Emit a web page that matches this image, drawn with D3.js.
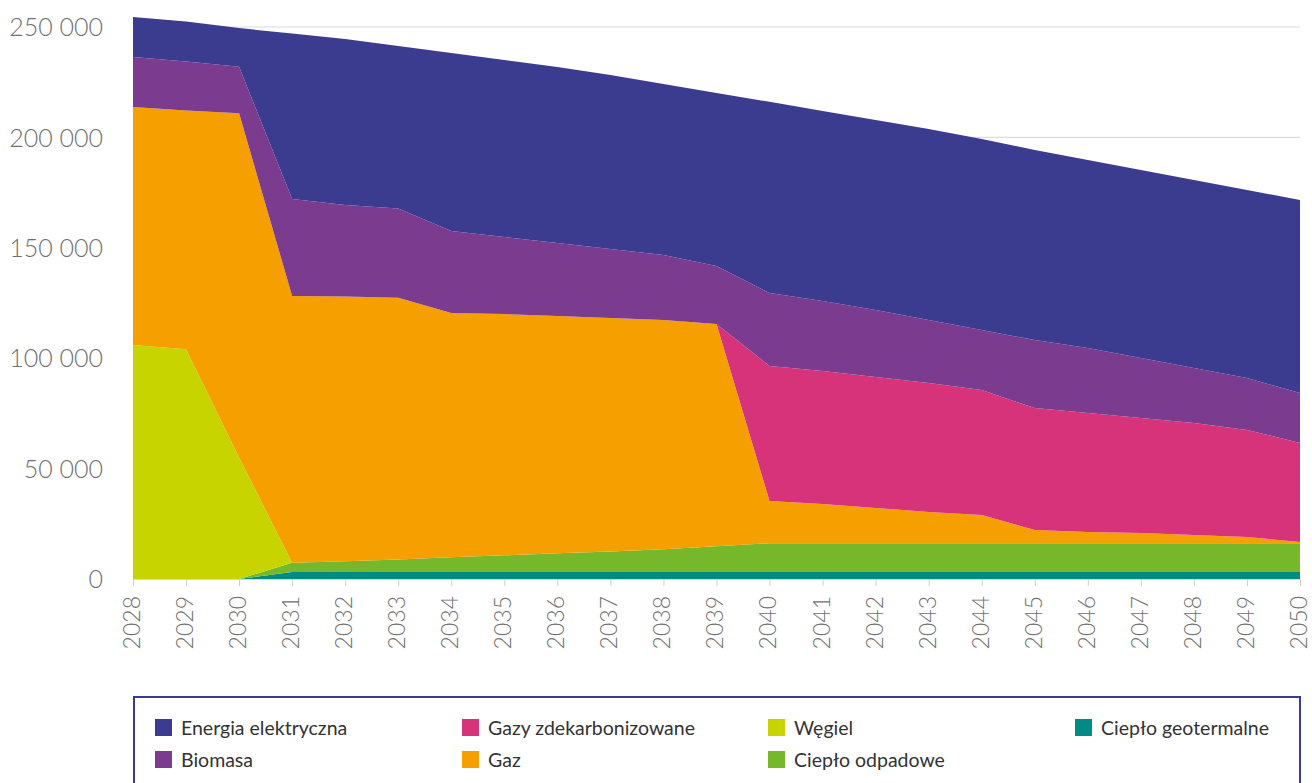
<!DOCTYPE html>
<html><head><meta charset="utf-8">
<script src="https://cdn.jsdelivr.net/npm/d3@7"></script>
<style>body{margin:0;background:#fff}svg{display:block}</style>
</head><body>
<svg id="c" width="1312" height="783"></svg>
<script>
const years = d3.range(2028, 2051);
const seriesNames = ["Ciepło geotermalne","Ciepło odpadowe","Węgiel","Gaz","Gazy zdekarbonizowane","Biomasa","Energia elektryczna"];
const geo     = [0,0,0,3200,3200,3200,3200,3200,3200,3200,3200,3200,3200,3200,3200,3200,3200,3200,3200,3200,3200,3200,3200];
const waste   = [0,0,0,4200,4800,5600,6600,7500,8500,9300,10300,11600,13000,13000,13000,13000,13000,13000,13000,13000,13000,13000,13000];
const coal    = [106000,104000,55000,0,0,0,0,0,0,0,0,0,0,0,0,0,0,0,0,0,0,0,0];
const gas     = [107800,108200,155900,120800,119900,118600,110700,109300,107400,105700,103800,100700,19100,17800,16000,14200,12800,6000,5100,4600,3700,2800,600];
const decarb  = [0,0,0,0,0,0,0,0,0,0,0,0,61200,60200,59300,58400,56600,55200,53900,52100,50800,48500,44800];
const biomass = [22600,22200,21100,43900,41500,40400,37100,34900,33100,31300,29400,26300,33000,31700,30300,28500,27200,30800,29400,27200,24900,23500,22600];
const elec    = [18100,18100,17500,74900,75200,73600,80600,80200,79700,78800,77500,78300,86600,86100,86100,86500,86500,86100,85200,85100,85100,85200,87400];
const yTicks = [0,50000,100000,150000,200000,250000];
const colors = ["#008c82","#76b82a","#c8d400","#f5a000","#d6337a","#7b3b8f","#3b3b8f"];
const legendOrder = ["Energia elektryczna","Gazy zdekarbonizowane","Węgiel","Ciepło geotermalne","Biomasa","Gaz","Ciepło odpadowe"];

const valuesByName = {"Ciepło geotermalne":geo,"Ciepło odpadowe":waste,"Węgiel":coal,"Gaz":gas,"Gazy zdekarbonizowane":decarb,"Biomasa":biomass,"Energia elektryczna":elec};
const table = years.map((yr,i)=>{const o={year:yr}; seriesNames.forEach(n=>o[n]=valuesByName[n][i]); return o;});
const color = d3.scaleOrdinal(seriesNames, colors);

const svg = d3.select("#c");
const font = "Lato, 'Open Sans', sans-serif";
const x = d3.scaleLinear().domain([2028,2050]).range([133,1300]);
const y = d3.scaleLinear().domain([0,250000]).range([579,27]);

// gridlines
svg.append("g").selectAll("line").data(yTicks.filter(d=>d>0)).join("line")
  .attr("x1",133).attr("x2",1300).attr("y1",d=>y(d)).attr("y2",d=>y(d))
  .attr("stroke","#dcdcdc").attr("stroke-width",1.2);

const stacked = d3.stack().keys(seriesNames)(table);
const area = d3.area().x(d=>x(d.data.year)).y0(d=>y(d[0])).y1(d=>y(d[1]));
svg.append("g").selectAll("path").data(stacked).join("path")
  .attr("d",area).attr("fill",d=>color(d.key));

// x axis
const xAxis = d3.axisBottom(x).tickValues(years).tickSize(7).tickFormat(d3.format("d"));
const gx = svg.append("g").attr("transform","translate(0,579)").call(xAxis);
gx.select(".domain").attr("stroke","#d8d8d8");
gx.selectAll(".tick line").attr("stroke","#cfcfcf");
gx.selectAll(".tick text").attr("font-family",font).attr("font-weight",300).attr("font-size",23)
  .attr("fill","#707070").attr("transform","rotate(-90)").attr("text-anchor","end")
  .attr("x",-17).attr("y",0).attr("dy","0.28em");

// y axis
const fmt = v => d3.format(",")(v).replace(/,/g," ");
const yAxis = d3.axisLeft(y).tickValues(yTicks).tickSize(0).tickFormat(fmt);
const gy = svg.append("g").attr("transform","translate(103,0)").call(yAxis);
gy.select(".domain").remove();
gy.selectAll(".tick text").attr("font-family",font).attr("font-weight",300).attr("font-size",25)
  .attr("fill","#707070").attr("x",0).attr("dy","0.35em");

// legend
svg.append("rect").attr("x",134).attr("y",697).attr("width",1166).attr("height",100)
  .attr("fill","none").attr("stroke","#3b3b8f").attr("stroke-width",2);
const colX = [155,462,768,1075];
const lg = svg.append("g").selectAll("g").data(legendOrder).join("g")
  .attr("transform",(d,i)=>{const col=i<4?i:i-4; const row=i<4?0:1; return `translate(${colX[col]},${719+row*32})`;});
lg.append("rect").attr("width",17).attr("height",17).attr("fill",d=>color(d));
lg.append("text").attr("x",26).attr("y",9).attr("dy","0.35em").text(d=>d)
  .attr("font-family",font).attr("font-size",19.5).attr("fill","#333");
</script>
</body></html>
